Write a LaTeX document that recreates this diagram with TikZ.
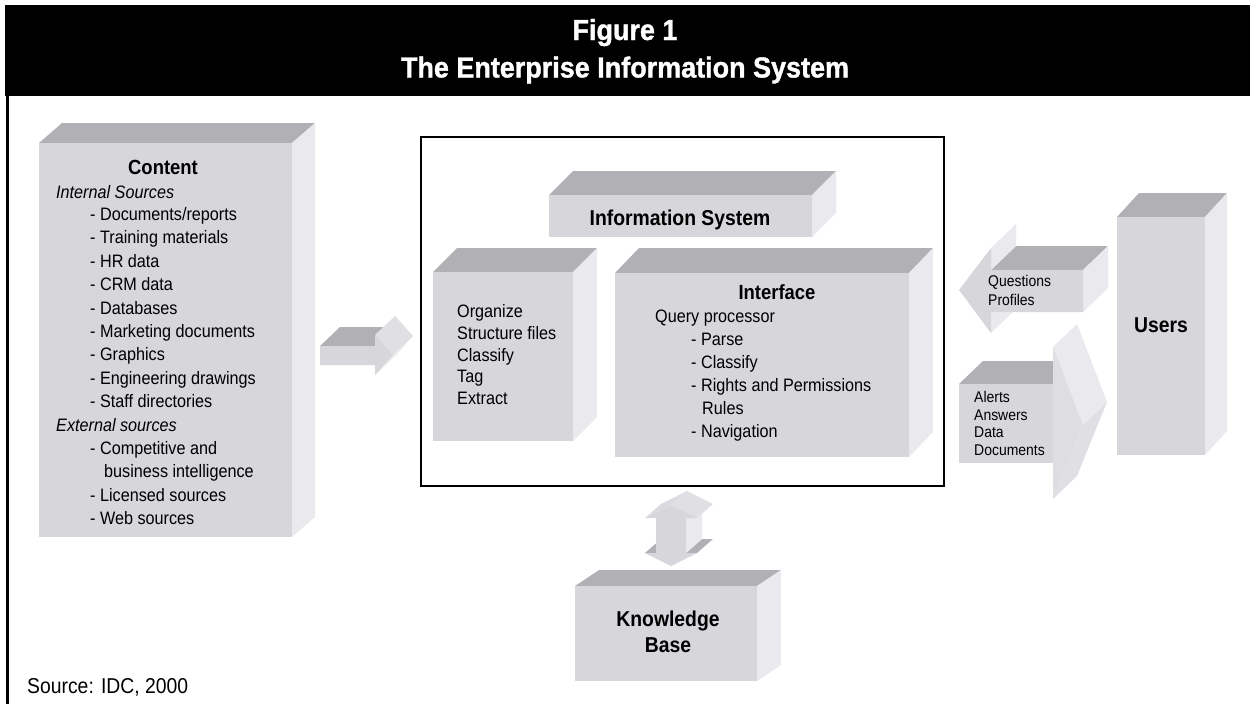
\documentclass[tikz,border=0pt]{standalone}
\usepackage{fontspec}
\setmainfont{Liberation Sans}[FakeStretch=0.9]
\newfontfamily\titlefont{Liberation Sans}[FakeStretch=0.93, FakeBold=1.2]
\definecolor{frontc}{RGB}{214,214,219}
\definecolor{topc}{RGB}{177,177,181}
\definecolor{sidec}{RGB}{234,234,238}
\definecolor{midc}{RGB}{224,224,228}
\definecolor{headc}{RGB}{222,222,226}
\newcommand\boxthree[6]{%
  \fill[topc] (#1,#2) -- ({#1+#5},{#2+#6}) -- ({#3+#5},{#2+#6}) -- (#3,#2) -- cycle;
  \fill[sidec] (#3,#2) -- ({#3+#5},{#2+#6}) -- ({#3+#5},{#4+#6}) -- (#3,#4) -- cycle;
  \fill[frontc] (#1,#2) rectangle (#3,#4);}
\tikzset{
  body/.style={font=\fontsize{18}{22}\selectfont, anchor=base west, inner sep=0pt},
  bodyit/.style={body, font=\fontsize{18}{22}\selectfont\itshape},
  small/.style={font=\fontsize{15.5}{18}\selectfont, anchor=base west, inner sep=0pt},
  hd/.style={font=\fontsize{20.5}{24}\selectfont\bfseries, anchor=base, inner sep=0pt},
  bighd/.style={font=\fontsize{21.5}{26}\selectfont\bfseries, anchor=base, inner sep=0pt},
  ttl/.style={font=\titlefont\bfseries\fontsize{29}{34}\selectfont, text=white, anchor=base, inner sep=0pt},
}
\begin{document}
\begin{tikzpicture}[x=1pt,y=-1pt]
\useasboundingbox (0,0) rectangle (1250,704);
% header band and frame
\fill[black] (5,5) rectangle (1250,96);
\draw[line width=2.4pt] (7.3,96) -- (7.3,704);
\node[ttl] (fig) at (625,40) {Figure 1};
\node[ttl] (ttl2) at (625,77.5) {The Enterprise Information System};

% Content box
\boxthree{39}{143}{292}{537}{23}{-20}
\node[hd] (content) at (163,174.5) {Content};
\node[bodyit] (intsrc) at (56,198.5) {Internal Sources};
\node[body] (c1) at (90,220.5) {- Documents/reports};
\node[body] (c2) at (90,243.9) {- Training materials};
\node[body] (c3) at (90,267.3) {- HR data};
\node[body] (c4) at (90,290.7) {- CRM data};
\node[body] (c5) at (90,314.1) {- Databases};
\node[body] (c6) at (90,337.5) {- Marketing documents};
\node[body] (c7) at (90,360.9) {- Graphics};
\node[body] (c8) at (90,384.3) {- Engineering drawings};
\node[body] (c9) at (90,407.7) {- Staff directories};
\node[bodyit] (extsrc) at (56,431.1) {External sources};
\node[body] (e1) at (90,454.5) {- Competitive and};
\node[body] (e2) at (104,477.9) {business intelligence};
\node[body] (e3) at (90,501.3) {- Licensed sources};
\node[body] (e4) at (90,524.7) {- Web sources};

% arrow content -> IS
\fill[topc] (320,346) -- (340,327) -- (395,327) -- (375,346) -- cycle;
\fill[midc] (375,335) -- (395,316) -- (413,336) -- (393,355) -- cycle;
\fill[sidec] (393,355) -- (413,336) -- (395,356) -- (375,375) -- cycle;
\fill[frontc] (320,346) -- (375,346) -- (375,335) -- (393,355) -- (375,375) -- (375,365) -- (320,365) -- cycle;

% Information system frame
\draw[line width=2.8pt] (421,137) rectangle (944,486);
\boxthree{549}{195}{812}{237}{24}{-24}
\node[bighd] (is) at (680,225) {Information System};
\boxthree{433}{272}{573}{441}{24}{-24}
\node[body] (o1) at (457,317.5) {Organize};
\node[body] (o2) at (457,339.25) {Structure files};
\node[body] (o3) at (457,361) {Classify};
\node[body] (o4) at (457,382.75) {Tag};
\node[body] (o5) at (457,404.5) {Extract};
\boxthree{615}{273}{909}{457}{24}{-25}
\node[hd] (iface) at (777,299.5) {Interface};
\node[body] (q0) at (655,322.5) {Query processor};
\node[body] (q1) at (691,345.5) {- Parse};
\node[body] (q2) at (691,368.5) {- Classify};
\node[body] (q3) at (691,391.5) {- Rights and Permissions};
\node[body] (q4) at (702,414.5) {Rules};
\node[body] (q5) at (691,437.5) {- Navigation};

% Questions arrow (left)
\fill[topc] (991,270) -- (1016,246) -- (1108,246) -- (1083,270) -- cycle;
\fill[sidec] (1083,270) -- (1108,246) -- (1108,288) -- (1083,312) -- cycle;
\fill[sidec] (991,248) -- (1016,224) -- (1016,246) -- (991,270) -- cycle;
\fill[sidec] (991,312) -- (1016,288) -- (1016,309) -- (991,333) -- cycle;
\fill[frontc] (959,290) -- (991,248) -- (991,270) -- (1083,270) -- (1083,312) -- (991,312) -- (991,333) -- cycle;
\node[small] (qq) at (988,286.5) {Questions};
\node[small] (qp) at (988,305.5) {Profiles};

% Alerts arrow (right)
\fill[topc] (959,384) -- (983,361) -- (1077,361) -- (1053,384) -- cycle;
\fill[sidec] (1053,347) -- (1077,324) -- (1107,402) -- (1083,425) -- cycle;
\fill[midc] (1083,425) -- (1107,402) -- (1077,476) -- (1053,499) -- cycle;
\fill[headc] (1053,347) -- (1083,425) -- (1053,499) -- cycle;
\fill[frontc] (959,384) rectangle (1053,463);
\node[small] (a1) at (974,402.5) {Alerts};
\node[small] (a2) at (974,420.2) {Answers};
\node[small] (a3) at (974,437.9) {Data};
\node[small] (a4) at (974,455.6) {Documents};

% Users
\boxthree{1117}{217}{1205}{455}{22}{-24}
\node[bighd] (users) at (1161,332.7) {Users};

% double arrow
\fill[topc] (645,553) -- (661,539) -- (672,539) -- (656,553) -- cycle;
\fill[topc] (686,553) -- (702,539) -- (713,539) -- (697,553) -- cycle;
\fill[sidec] (686,518) -- (702,504) -- (702,539) -- (686,553) -- cycle;
\fill[midc!90!topc] (645,518) -- (661,504) -- (687,491) -- (671,505) -- cycle;
\fill[midc] (671,505) -- (687,491) -- (713,504) -- (697,518) -- cycle;
\fill[frontc] (671,505) -- (697,518) -- (686,518) -- (686,553) -- (697,553) -- (671,566) -- (645,553) -- (656,553) -- (656,518) -- (645,518) -- cycle;

% Knowledge base
\boxthree{575}{586}{757}{681}{24}{-16}
\node[bighd] (kb1) at (668,626) {Knowledge};
\node[bighd] (kb2) at (668,652) {Base};

% source
\node[font=\fontsize{21.5}{25}\selectfont, anchor=base west, inner sep=0pt] (src) at (27,693.5) {Source: IDC, 2000};
\end{tikzpicture}
\end{document}
